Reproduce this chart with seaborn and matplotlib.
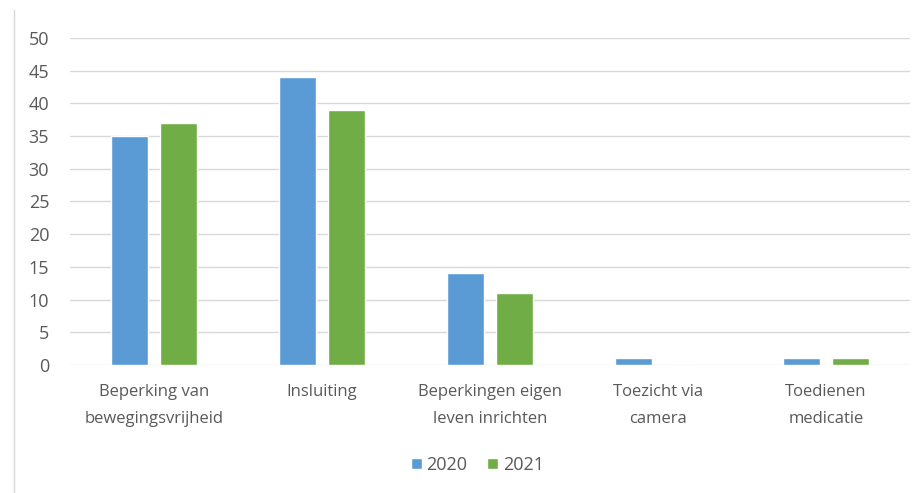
import matplotlib
matplotlib.use("Agg")
import matplotlib.pyplot as plt
from matplotlib.lines import Line2D
import seaborn as sns
import pandas as pd

categories = ["Beperking van\nbewegingsvrijheid", "Insluiting", "Beperkingen eigen\nleven inrichten",
              "Toezicht via\ncamera", "Toedienen\nmedicatie"]
years = ["2020", "2021"]
values_2020 = [35, 44, 14, 1, 1]
values_2021 = [37, 39, 11, 0, 1]
yticks = [0, 5, 10, 15, 20, 25, 30, 35, 40, 45, 50]

df = pd.DataFrame({
    "cat": categories * 2,
    "year": [years[0]] * len(categories) + [years[1]] * len(categories),
    "val": values_2020 + values_2021,
})

sns.set_theme(style="white")
plt.rcParams["font.family"] = ["Open Sans", "DejaVu Sans"]

fig = plt.figure(figsize=(9.13, 4.93), dpi=100)
ax = fig.add_axes([0.0767, 0.2596, 0.92, 0.6634])

sns.barplot(data=df, x="cat", y="val", hue="year", order=categories, hue_order=years,
            palette=["#5B9BD5", "#70AD47"], width=0.58, gap=0.24, ax=ax, legend=True,
            saturation=1)

ax.set_ylim(0, 50)
ax.set_yticks(yticks)
ax.set_xlim(-0.5, 4.5)
ax.yaxis.grid(True, color="#d9d9d9", linewidth=1)
ax.set_axisbelow(True)
for s in ax.spines.values():
    s.set_visible(False)
ax.set_xlabel("")
ax.set_ylabel("")
ax.tick_params(axis="y", length=0, pad=15, labelsize=13, labelcolor="#595959")
ax.tick_params(axis="x", length=0, pad=14, labelsize=12, labelcolor="#595959")
for t in ax.get_xticklabels():
    t.set_linespacing(1.9)

leg = ax.legend(loc="center", bbox_to_anchor=(0.485, -0.306), ncol=2, frameon=False,
                fontsize=13, handlelength=0.6, handleheight=0.6, handletextpad=0.25,
                columnspacing=1.1, labelcolor="#595959")

fig.add_artist(Line2D([14 / 913, 14 / 913], [0, 1 - 10 / 493], transform=fig.transFigure,
                      color="#d9d9d9", linewidth=1))

fig.savefig("out.png", dpi=100)
